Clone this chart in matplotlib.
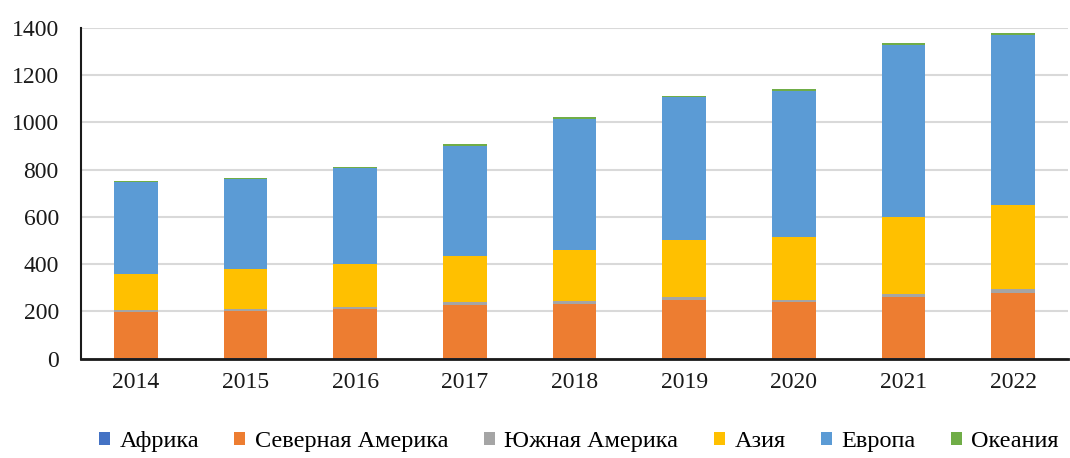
import matplotlib
matplotlib.use("Agg")
import matplotlib.pyplot as plt
import numpy as np

years = ["2014", "2015", "2016", "2017", "2018", "2019", "2020", "2021", "2022"]
africa = [1, 1, 1, 1, 1, 1, 1, 1, 1]
north_america = [195, 199, 209, 228, 229, 247, 237, 258, 277]
south_america = [9, 8, 10, 11, 12, 11, 11, 15, 15]
asia = [152, 171, 179, 194, 218, 244, 268, 324, 356]
europe = [389, 380, 408, 466, 554, 603, 616, 732, 720]
oceania = [5, 5, 6, 7, 7, 7, 7, 7, 8]

series_names = ["Африка", "Северная Америка", "Южная Америка", "Азия", "Европа", "Океания"]
colors = ["#4472C4", "#ED7D31", "#A5A5A5", "#FFC000", "#5B9BD5", "#70AD47"]

plt.rcParams['font.family'] = ['Liberation Serif', 'DejaVu Serif']

fig = plt.figure(figsize=(10.70, 4.58), dpi=100)
ax = fig.add_axes([81/1070, (458-358.6)/458, 987/1070, (358.6-28)/458])

x = np.arange(len(years))
bottom = np.zeros(len(years))
handles = []
for name, vals, c in zip(series_names,
                         [africa, north_america, south_america, asia, europe, oceania],
                         colors):
    h = ax.bar(x, vals, width=0.40, bottom=bottom, color=c, linewidth=0,
               label=name, zorder=3)
    handles.append(h)
    bottom += np.array(vals)

ax.set_xlim(-0.5, len(years) - 0.5)
ax.set_ylim(0, 1400)
ax.set_yticks(range(0, 1401, 200))
ax.set_xticks(x)
ax.set_xticklabels(years)
ax.yaxis.grid(True, color="#D9D9D9", linewidth=1.5, zorder=0)
ax.set_axisbelow(True)
for s in ["top", "right"]:
    ax.spines[s].set_visible(False)
ax.spines["left"].set_color("#1a1a1a")
ax.spines["left"].set_linewidth(1.5)
ax.spines["bottom"].set_color("#1a1a1a")
ax.spines["bottom"].set_linewidth(2.0)
ax.spines["bottom"].set_zorder(4)
ax.tick_params(axis="both", length=0, labelsize=17, colors="#1a1a1a")
ax.tick_params(axis="y", pad=16)
ax.tick_params(axis="x", pad=10)

fig.legend(handles=handles, labels=series_names, loc="center",
           bbox_to_anchor=(0.541, 0.036), ncol=6, frameon=False,
           fontsize=17.5, handlelength=0.45, handleheight=0.45,
           handletextpad=0.4, columnspacing=1.45)

fig.savefig("out.png", dpi=100)
